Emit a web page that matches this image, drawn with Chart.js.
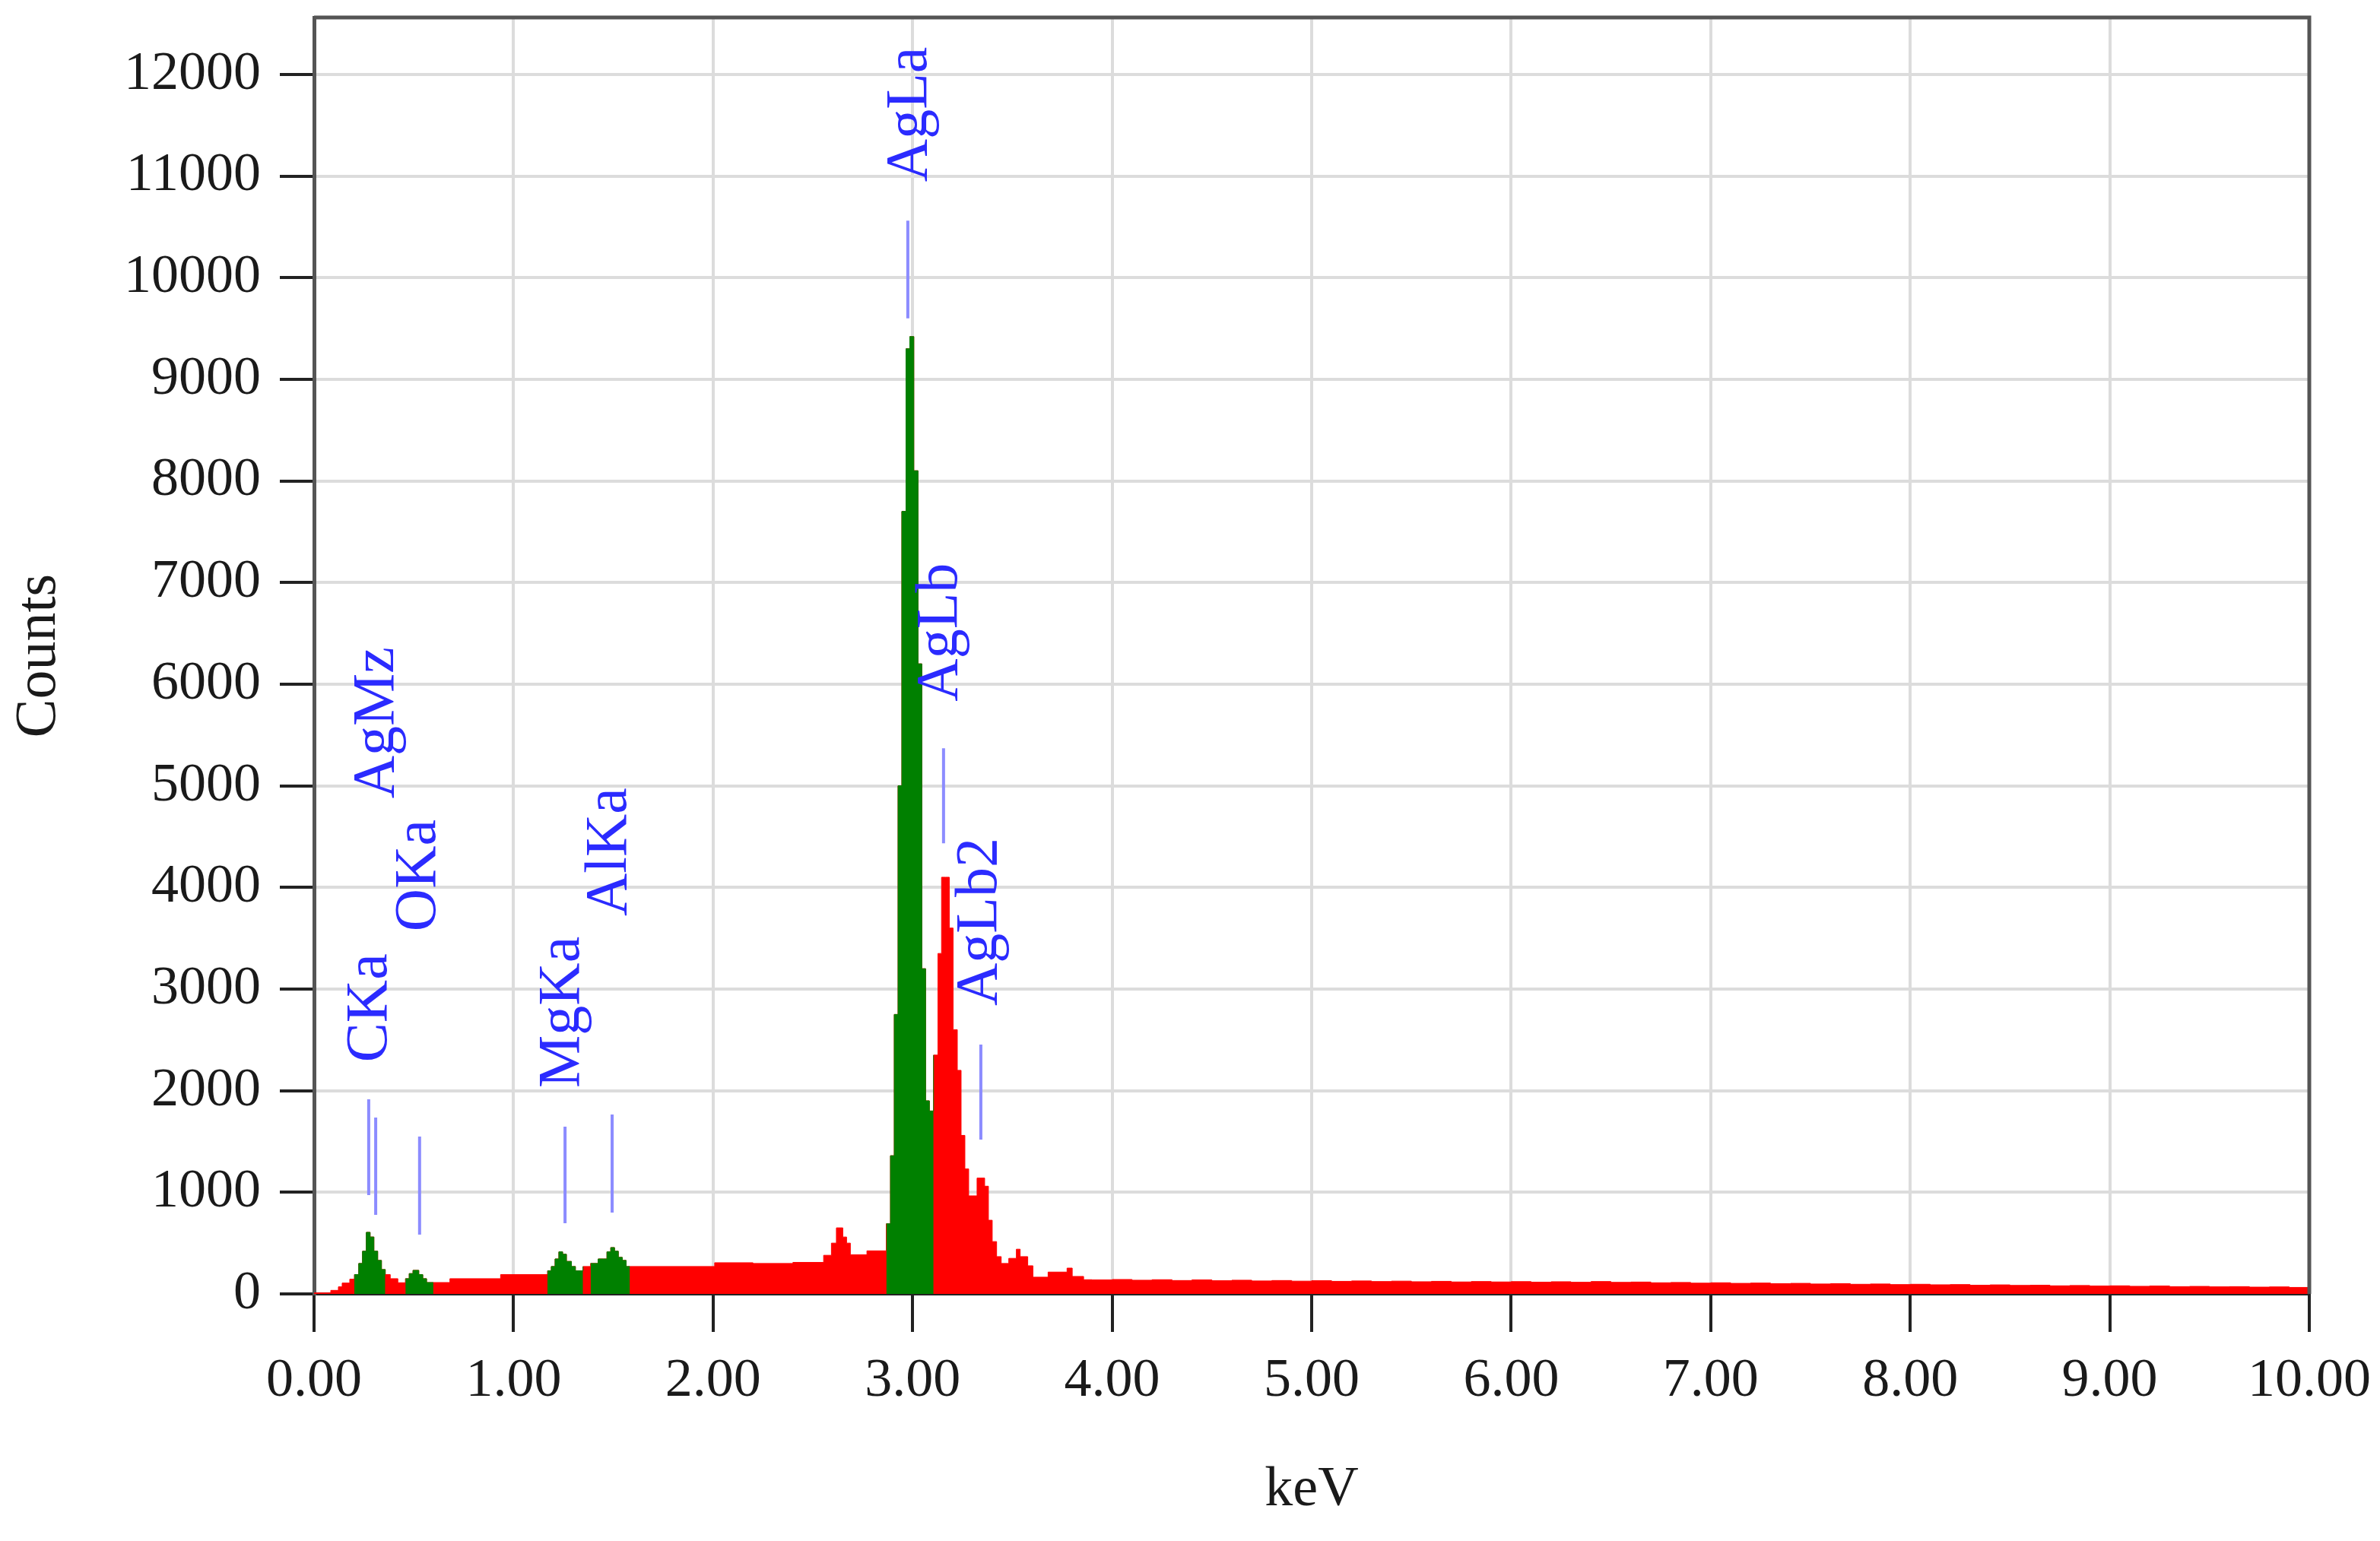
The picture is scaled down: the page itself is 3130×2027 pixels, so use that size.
<!DOCTYPE html>
<html>
<head>
<meta charset="utf-8">
<title>EDS spectrum</title>
<script src="https://cdn.jsdelivr.net/npm/chart.js@4.4.0/dist/chart.umd.min.js"></script>
<style>
  html, body { margin: 0; padding: 0; background: #fff; }
  #wrap { width: 3130px; height: 2027px; }
</style>
</head>
<body>
<div id="wrap"><canvas id="spectrum" width="3130" height="2027"></canvas></div>
<script>
// ========================
// Spectrum data (bin start keV, counts)
// ========================
const energies = [
  0.000, 0.084, 0.122, 0.141, 0.179, 0.202, 0.224, 0.243, 0.262, 0.281,
  0.300, 0.319, 0.338, 0.357, 0.382, 0.420, 0.458, 0.477, 0.496, 0.525,
  0.545, 0.564, 0.598, 0.681, 0.935, 1.170, 1.189, 1.208, 1.227, 1.246,
  1.265, 1.290, 1.310, 1.348, 1.386, 1.424, 1.449, 1.468, 1.487, 1.506,
  1.525, 1.545, 1.564, 1.583, 1.856, 2.008, 2.200, 2.400, 2.554, 2.593,
  2.618, 2.650, 2.669, 2.688, 2.771, 2.868, 2.889, 2.908, 2.927, 2.946,
  2.967, 2.986, 3.006, 3.027, 3.046, 3.065, 3.084, 3.105, 3.127, 3.145,
  3.165, 3.184, 3.203, 3.224, 3.243, 3.262, 3.281, 3.300, 3.323, 3.342,
  3.361, 3.380, 3.399, 3.421, 3.444, 3.482, 3.520, 3.539, 3.577, 3.603,
  3.679, 3.774, 3.800, 3.857,
  3.9, 4.0, 4.1, 4.2, 4.3, 4.4, 4.5, 4.6, 4.7, 4.8, 4.9,
  5.0, 5.1, 5.2, 5.3, 5.4, 5.5, 5.6, 5.7, 5.8, 5.9,
  6.0, 6.1, 6.2, 6.3, 6.4, 6.5, 6.6, 6.7, 6.8, 6.9,
  7.0, 7.1, 7.2, 7.3, 7.4, 7.5, 7.6, 7.7, 7.8, 7.9,
  8.0, 8.1, 8.2, 8.3, 8.4, 8.5, 8.6, 8.7, 8.8, 8.9,
  9.0, 9.1, 9.2, 9.3, 9.4, 9.5, 9.6, 9.7, 9.8, 9.9, 10.0
];
const counts = [
  10, 35, 70, 107, 145, 190, 300, 420, 606, 560,
  420, 330, 240, 190, 150, 110, 150, 200, 232, 190,
  150, 112, 112, 150, 190, 227, 270, 344, 414, 390,
  320, 270, 227, 270, 300, 344, 344, 414, 456, 420,
  360, 330, 270, 270, 270, 307, 300, 310, 380, 500,
  650, 560, 500, 385, 424, 690, 1360, 2750, 5000, 7700,
  9300, 9420, 8100, 6200, 3200, 1900, 1800, 2350, 3350, 4100,
  4100, 3600, 2600, 2200, 1560, 1230, 965, 965, 1140, 1140,
  1060, 725, 515, 367, 300, 350, 440, 367, 277, 165,
  215, 254, 172, 140,
  138, 142, 135, 140, 132, 138, 130, 135, 128, 132, 126,
  130, 124, 128, 122, 126, 120, 124, 118, 122, 118,
  121, 116, 120, 115, 122, 114, 117, 110, 113, 106,
  110, 104, 107, 101, 104, 98, 101, 95, 98, 92,
  95, 90, 92, 86, 89, 84, 86, 80, 83, 78,
  80, 75, 78, 72, 74, 70, 72, 67, 69, 64, 62
];

// identified peak ranges (green)
const peakStart = [0.202, 0.458, 1.170, 1.386, 2.868];
const peakEnd = [0.357, 0.598, 1.348, 1.583, 3.105];

// KLM marker lines (keV, top counts, bottom counts)
const markerKeV = [0.274, 0.309, 0.529, 1.258, 1.494, 2.976, 3.155, 3.342];
const markerTop = [1915, 1735, 1548, 1645, 1765, 10560, 5370, 2453];
const markerBottom = [972, 778, 583, 696, 800, 9600, 4435, 1518];

// peak names, centre keV, counts where the text starts
const labelNames = ['CKa', 'AgMz', 'OKa', 'MgKa', 'AlKa', 'AgLa', 'AgLb', 'AgLb2'];
const labelKeV = [0.283, 0.320, 0.529, 1.250, 1.486, 2.988, 3.144, 3.342];
const labelStart = [2280, 4875, 3567, 2027, 3717, 10943, 5830, 2835];

const xTicks = [0, 1, 2, 3, 4, 5, 6, 7, 8, 9, 10];
const yTicks = [0, 1000, 2000, 3000, 4000, 5000, 6000, 7000, 8000, 9000, 10000, 11000, 12000];
const yMax = 12560;

// ========================
// Datasets
// ========================
const points = energies.map((e, i) => ({ x: e, y: counts[i] }));

const datasets = [{
  data: points,
  stepped: true,
  fill: 'origin',
  backgroundColor: '#ff0000',
  borderColor: '#ff0000',
  borderWidth: 1,
  pointRadius: 0,
  order: 3
}];

peakStart.forEach((a, i) => {
  const b = peakEnd[i];
  datasets.push({
    data: points.filter(p => p.x >= a - 1e-9 && p.x <= b + 1e-9),
    stepped: true,
    fill: 'origin',
    backgroundColor: '#008000',
    borderColor: '#008000',
    borderWidth: 1,
    pointRadius: 0,
    order: 2
  });
});

markerKeV.forEach((e, i) => {
  datasets.push({
    data: [{ x: e, y: markerTop[i] }, { x: e, y: markerBottom[i] }],
    borderColor: '#8c8cff',
    borderWidth: 4,
    pointRadius: 0,
    fill: false,
    order: 1
  });
});

// ========================
// Plugins
// ========================
const frame = {
  id: 'frame',
  afterDatasetsDraw(chart) {
    const { ctx, chartArea: a } = chart;
    ctx.save();
    ctx.strokeStyle = '#555';
    ctx.lineWidth = 5;
    ctx.beginPath();
    ctx.moveTo(a.left, a.top);
    ctx.lineTo(a.right, a.top);
    ctx.lineTo(a.right, a.bottom);
    ctx.stroke();
    ctx.restore();
  }
};

const peakLabels = {
  id: 'peakLabels',
  afterDatasetsDraw(chart) {
    const { ctx, scales: { x, y } } = chart;
    ctx.save();
    ctx.fillStyle = '#2b2bff';
    ctx.font = '78px "Liberation Serif"';
    ctx.textAlign = 'left';
    ctx.textBaseline = 'middle';
    labelNames.forEach((name, i) => {
      ctx.save();
      ctx.translate(x.getPixelForValue(labelKeV[i]), y.getPixelForValue(labelStart[i]));
      ctx.rotate(-Math.PI / 2);
      ctx.fillText(name, 0, 0);
      ctx.restore();
    });
    ctx.restore();
  }
};

// ========================
// Chart
// ========================
const tickFont = { family: '"Liberation Serif"', size: 72 };

new Chart(document.getElementById('spectrum'), {
  type: 'line',
  data: { datasets },
  plugins: [frame, peakLabels],
  options: {
    responsive: false,
    animation: false,
    events: [],
    layout: { padding: { top: 23, right: 93, left: 0, bottom: 0 } },
    plugins: { legend: { display: false }, tooltip: { enabled: false } },
    scales: {
      x: {
        type: 'linear',
        min: 0,
        max: 10,
        afterBuildTicks: s => { s.ticks = xTicks.map(v => ({ value: v })); },
        afterFit: s => {
          s.height = 325;
          s.paddingLeft = 0;
          s.paddingRight = 0;
        },
        ticks: {
          font: tickFont,
          color: '#1a1a1a',
          padding: 22,
          maxRotation: 0,
          autoSkip: false,
          callback: v => Number(v).toFixed(2)
        },
        grid: {
          color: '#dcdcdc',
          lineWidth: 4,
          tickLength: 50,
          tickColor: '#222',
          tickWidth: 4
        },
        border: { color: '#222', width: 4 },
        title: {
          display: true,
          text: 'keV',
          font: { family: '"Liberation Serif"', size: 74 },
          color: '#1a1a1a',
          padding: { top: 0, bottom: 22 }
        }
      },
      y: {
        min: 0,
        max: yMax,
        afterBuildTicks: s => { s.ticks = yTicks.map(v => ({ value: v })); },
        afterFit: s => {
          s.width = 413;
          s.paddingTop = 0;
          s.paddingBottom = 0;
        },
        ticks: {
          font: tickFont,
          color: '#1a1a1a',
          padding: 25,
          autoSkip: false,
          callback: v => String(v)
        },
        grid: {
          color: '#dcdcdc',
          lineWidth: 4,
          tickLength: 45,
          tickColor: '#222',
          tickWidth: 4
        },
        border: { color: '#555', width: 5 },
        title: {
          display: true,
          text: 'Counts',
          font: { family: '"Liberation Serif"', size: 76 },
          color: '#1a1a1a',
          padding: { top: 6, bottom: 0 }
        }
      }
    }
  }
});
</script>
</body>
</html>
